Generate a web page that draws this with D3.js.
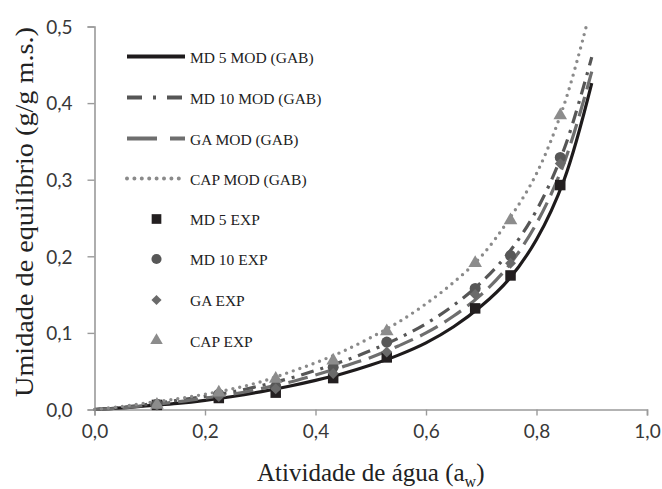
<!DOCTYPE html>
<html>
<head>
<meta charset="utf-8">
<script src="https://cdn.jsdelivr.net/npm/d3@7"></script>
<style>
  body { margin: 0; background: #fff; }
  svg { display: block; }
</style>
</head>
<body>
<svg width="662" height="489"></svg>
<script>
// water activity of the experimental points (salt solutions)
const awExp = [0.113, 0.225, 0.328, 0.432, 0.529, 0.689, 0.753, 0.843];
const md5Exp = [0.006, 0.015, 0.022, 0.041, 0.068, 0.132, 0.175, 0.293];
const md10Exp = [0.007, 0.020, 0.030, 0.055, 0.088, 0.158, 0.201, 0.329];
const gaExp = [0.006, 0.017, 0.027, 0.047, 0.075, 0.150, 0.191, 0.321];
const capExp = [0.006, 0.022, 0.040, 0.064, 0.102, 0.191, 0.247, 0.384];

// GAB model curves
const awMod = [0, 0.05, 0.1, 0.15, 0.2, 0.25, 0.3, 0.35, 0.4, 0.45, 0.5, 0.55, 0.6, 0.65, 0.7, 0.75, 0.8, 0.85, 0.9];
const md5Mod = [0, 0.002, 0.005, 0.008, 0.012, 0.017, 0.023, 0.030, 0.038, 0.047, 0.058, 0.071, 0.087, 0.108, 0.135, 0.170, 0.222, 0.300, 0.426];
const md10Mod = [0, 0.003, 0.007, 0.012, 0.017, 0.023, 0.031, 0.040, 0.051, 0.063, 0.077, 0.093, 0.112, 0.136, 0.166, 0.205, 0.260, 0.340, 0.460];
const gaMod = [0, 0.002, 0.006, 0.010, 0.015, 0.020, 0.027, 0.035, 0.045, 0.056, 0.068, 0.083, 0.100, 0.122, 0.150, 0.188, 0.243, 0.322, 0.441];
const awCap = [0, 0.05, 0.1, 0.15, 0.2, 0.25, 0.3, 0.35, 0.4, 0.45, 0.5, 0.55, 0.6, 0.65, 0.7, 0.75, 0.8, 0.85, 0.89];
const capMod = [0, 0.004, 0.009, 0.014, 0.020, 0.027, 0.036, 0.048, 0.061, 0.076, 0.094, 0.114, 0.138, 0.166, 0.200, 0.248, 0.308, 0.398, 0.500];

const xTicks = [0, 0.2, 0.4, 0.6, 0.8, 1.0];
const yTicks = [0, 0.1, 0.2, 0.3, 0.4, 0.5];

const lineSeries = [
  { name: "MD 5 MOD (GAB)", x: awMod, y: md5Mod, color: "#1e1b1c", dash: null, legendDash: null, width: 3.2, cap: "butt" },
  { name: "MD 10 MOD (GAB)", x: awMod, y: md10Mod, color: "#565656", dash: "13,7,3,7", legendDash: "15,11,3,11", width: 3.2, cap: "butt" },
  { name: "GA MOD (GAB)", x: awMod, y: gaMod, color: "#6e6e6e", dash: "20,8", legendDash: "30,13", width: 3.2, cap: "butt" },
  { name: "CAP MOD (GAB)", x: awCap, y: capMod, color: "#8a8a8a", dash: "0,7", legendDash: "0,7.4", width: 3.4, cap: "round" }
];
const pointSeries = [
  { name: "MD 5 EXP", y: md5Exp, color: "#231f20", shape: d3.symbolSquare, size: 110, rot: 0 },
  { name: "MD 10 EXP", y: md10Exp, color: "#575757", shape: d3.symbolCircle, size: 95, rot: 0 },
  { name: "GA EXP", y: gaExp, color: "#6a6a6a", shape: d3.symbolSquare, size: 60, rot: 45 },
  { name: "CAP EXP", y: capExp, color: "#8c8c8c", shape: d3.symbolTriangle, size: 80, rot: 0 }
];

const svg = d3.select("svg");
const plotLeft = 94.5, plotRight = 647, plotTop = 26.5, plotBottom = 409.5;

const x = d3.scaleLinear().domain([0, 1]).range([plotLeft, plotRight]);
const y = d3.scaleLinear().domain([0, 0.5]).range([plotBottom, plotTop]);
const fmt = d => d3.format(".1f")(d).replace(".", ",");

// axes
const xAxis = svg.append("g").attr("transform", `translate(0,${plotBottom})`)
  .call(d3.axisBottom(x).tickValues(xTicks).tickFormat(fmt).tickSize(6).tickPadding(9));
const yAxis = svg.append("g").attr("transform", `translate(${plotLeft},0)`)
  .call(d3.axisLeft(y).tickValues(yTicks).tickFormat(fmt).tickSize(7).tickPadding(15));
[xAxis, yAxis].forEach(a => {
  a.select(".domain").attr("stroke", "#9a9a9a").attr("stroke-width", 1.6);
  a.selectAll(".tick line").attr("stroke", "#9a9a9a").attr("stroke-width", 1.4);
  a.selectAll(".tick text").attr("fill", "#383838").style("font-family", "Lato, 'Open Sans', sans-serif").style("font-size", "19px");
});
yAxis.selectAll(".tick text").attr("dy", "0.36em");

// model curves
const plot = svg.append("g");
lineSeries.forEach(s => {
  const line = d3.line().x(d => x(d[0])).y(d => y(d[1])).curve(d3.curveCatmullRom);
  plot.append("path")
    .datum(d3.zip(s.x, s.y))
    .attr("d", line)
    .attr("fill", "none")
    .attr("stroke", s.color)
    .attr("stroke-width", s.width)
    .attr("stroke-linecap", s.cap)
    .attr("stroke-dasharray", s.dash);
});

// experimental points
pointSeries.forEach(s => {
  plot.selectAll(null)
    .data(d3.zip(awExp, s.y))
    .enter().append("path")
    .attr("d", d3.symbol(s.shape, s.size))
    .attr("transform", d => `translate(${x(d[0])},${y(d[1])}) rotate(${s.rot})`)
    .attr("fill", s.color);
});

// legend
const legend = svg.append("g").style("font-family", "'Liberation Serif', 'Times New Roman', serif").style("font-size", "15.5px");
const rowBase = [63, 104, 145, 185, 225, 265, 306, 346.5];
lineSeries.forEach((s, i) => {
  const yy = rowBase[i] - 6.5;
  legend.append("line")
    .attr("x1", 127).attr("x2", 185).attr("y1", yy).attr("y2", yy)
    .attr("stroke", s.color).attr("stroke-width", s.width + 0.6)
    .attr("stroke-linecap", s.cap).attr("stroke-dasharray", s.legendDash);
  legend.append("text").attr("x", 190).attr("y", rowBase[i]).attr("fill", "#222").text(s.name);
});
pointSeries.forEach((s, i) => {
  const yy = rowBase[i + 4] - 6;
  legend.append("path")
    .attr("d", d3.symbol(s.shape, s.size * 0.85))
    .attr("transform", `translate(156.5,${yy}) rotate(${s.rot})`)
    .attr("fill", s.color);
  legend.append("text").attr("x", 190).attr("y", rowBase[i + 4]).attr("fill", "#222").text(s.name);
});

// axis titles
const xTitle = svg.append("text")
  .attr("x", (plotLeft + plotRight) / 2).attr("y", 481)
  .attr("text-anchor", "middle")
  .attr("fill", "#222")
  .style("font-family", "'Liberation Serif', 'Times New Roman', serif")
  .style("font-size", "25px");
xTitle.append("tspan").text("Atividade de água (a");
xTitle.append("tspan").attr("dy", 6).style("font-size", "16px").text("w");
xTitle.append("tspan").attr("dy", -6).text(")");

svg.append("text")
  .attr("transform", "translate(33,212) rotate(-90)")
  .attr("text-anchor", "middle")
  .attr("fill", "#222")
  .attr("textLength", 370)
  .attr("lengthAdjust", "spacingAndGlyphs")
  .style("font-family", "'Liberation Serif', 'Times New Roman', serif")
  .style("font-size", "26px")
  .text("Umidade de equilíbrio (g/g m.s.)");
</script>
</body>
</html>
